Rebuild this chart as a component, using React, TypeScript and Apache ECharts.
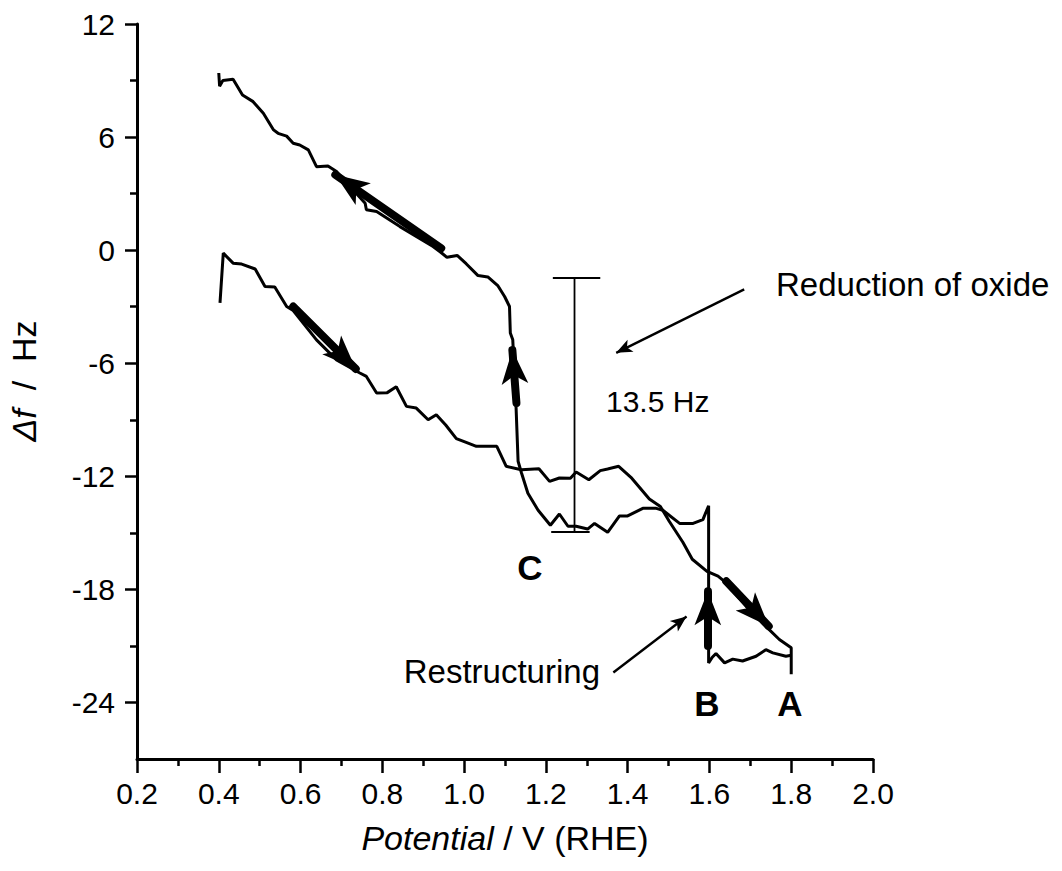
import React, { useEffect, useRef } from "react";
import * as echarts from "echarts";

// Anodic sweep (0.4 V -> 1.8 V): potential (V vs RHE) and frequency shift (Hz)
const anodicPotential = [
  0.403, 0.411, 0.435, 0.456, 0.489, 0.513, 0.537, 0.566, 0.582, 0.639, 0.688, 0.745,
  0.761, 0.786, 0.812, 0.834, 0.859, 0.883, 0.912, 0.932, 0.955, 0.981, 1.005, 1.03,
  1.08, 1.103, 1.14, 1.183, 1.209, 1.233, 1.26, 1.274, 1.305, 1.333, 1.351, 1.378,
  1.41, 1.453, 1.48, 1.502, 1.535, 1.558, 1.594, 1.621, 1.638, 1.69, 1.738, 1.771,
  1.8, 1.8,
];
const anodicShift = [
  -2.8, -0.16, -0.69, -0.74, -1.0, -1.93, -1.96, -2.99, -3.2, -4.76, -5.82, -6.52,
  -6.7, -7.58, -7.56, -7.25, -8.29, -8.38, -9.0, -8.73, -9.28, -10.0, -10.2, -10.41,
  -10.41, -11.47, -11.65, -11.6, -12.27, -12.09, -12.1, -11.77, -12.18, -11.7, -11.61, -11.47,
  -12.1, -13.2, -13.6, -14.4, -15.5, -16.4, -17.04, -17.3, -17.6, -18.9, -19.96, -20.66,
  -21.1, -22.5,
];

// Cathodic sweep (1.8 V -> 0.4 V)
const cathodicPotential = [
  1.8, 1.787, 1.755, 1.738, 1.714, 1.681, 1.657, 1.637, 1.616, 1.607, 1.598, 1.598,
  1.584, 1.56, 1.527, 1.486, 1.47, 1.437, 1.4, 1.38, 1.351, 1.319, 1.302, 1.274,
  1.254, 1.233, 1.211, 1.181, 1.156, 1.14, 1.132, 1.127, 1.119, 1.113, 1.111, 1.099,
  1.083, 1.058, 1.034, 1.005, 0.983, 0.958, 0.942, 0.924, 0.843, 0.786, 0.761, 0.758,
  0.688, 0.667, 0.639, 0.619, 0.598, 0.582, 0.566, 0.545, 0.534, 0.509, 0.484, 0.458,
  0.435, 0.41, 0.402, 0.4,
];
const cathodicShift = [
  -21.5, -21.55, -21.37, -21.2, -21.55, -21.8, -21.7, -21.9, -21.4, -21.6, -21.9, -13.56,
  -14.3, -14.5, -14.5, -13.8, -13.7, -13.7, -14.1, -14.1, -14.97, -14.5, -14.8, -14.65,
  -14.65, -14.0, -14.6, -13.8, -12.9, -11.8, -11.2, -8.3, -4.76, -4.4, -2.99, -2.46,
  -1.9, -1.42, -1.35, -0.72, -0.28, -0.38, -0.1, 0.19, 1.25, 2.05, 2.14, 2.49,
  4.17, 4.47, 4.43, 5.32, 5.58, 5.67, 6.05, 6.2, 6.38, 7.26, 7.88, 8.23,
  9.07, 9.0, 8.7, 9.4,
];

// Sweep-direction arrows drawn on the curves: [from, to] in (V, Hz)
const sweepArrows = [
  [[0.944, 0.1], [0.685, 4.0]],
  [[0.582, -2.99], [0.735, -6.3]],
  [[1.128, -8.11], [1.118, -5.3]],
  [[1.596, -21.0], [1.596, -18.1]],
  [[1.641, -17.57], [1.745, -19.95]],
];

// Pointer arrows for the text annotations
const pointerArrows = [
  [[1.685, -2.08], [1.372, -5.45]],
  [[1.365, -22.41], [1.544, -19.44]],
];

// Height marker of the oxide-reduction step (13.5 Hz)
const stepPotential = 1.27;
const stepTop = -1.45;
const stepBottom = -14.95;
const stepTopCap = [1.217, 1.333];
const stepBottomCap = [1.213, 1.307];

// Axis ticks
const xMin = 0.2;
const xMax = 2.0;
const yMin = -27;
const yMax = 12;
const yMajorTicks = [-24, -18, -12, -6, 0, 6, 12];
const yMinorTicks = [-21, -15, -9, -3, 3, 9];

const FONT = "'Liberation Sans', Arial, Helvetica, sans-serif";

const pairs = (xs: number[], ys: number[]) => xs.map((x, i) => [x, ys[i]]);

export default function App() {
  const ref = useRef<HTMLDivElement>(null);

  useEffect(() => {
    if (!ref.current) return;
    const chart = echarts.init(ref.current, undefined, { renderer: "svg" });

    const black = "#000";
    const curveStyle = { color: black, width: 3 };
    const titleRich = {
      i: { fontStyle: "italic", fontSize: 34, fontFamily: FONT, fill: black },
      n: { fontSize: 34, fontFamily: FONT, fill: black },
    };

    const option: any = {
      animation: false,
      backgroundColor: "#fff",
      grid: {
        left: 137,
        right: 189,
        top: 24,
        bottom: 112,
        containLabel: false,
        outerBoundsMode: "none",
      },
      xAxis: {
        type: "value",
        min: xMin,
        max: xMax,
        interval: 0.2,
        axisLine: { onZero: false, lineStyle: { color: black, width: 3 } },
        axisTick: { length: 14, lineStyle: { color: black, width: 2.5 } },
        minorTick: {
          show: true,
          splitNumber: 2,
          length: 7,
          lineStyle: { color: black, width: 2.5 },
        },
        splitLine: { show: false },
        minorSplitLine: { show: false },
        axisLabel: {
          color: black,
          fontSize: 30,
          fontFamily: FONT,
          margin: 19,
          showMinLabel: true,
          showMaxLabel: true,
          formatter: (v: number) => v.toFixed(1),
        },
      },
      yAxis: [
        {
          type: "value",
          min: yMin,
          max: yMax,
          position: "left",
          axisLine: { onZero: false, lineStyle: { color: black, width: 3 } },
          axisTick: {
            length: 12,
            customValues: yMajorTicks,
            lineStyle: { color: black, width: 2.5 },
          },
          splitLine: { show: false },
          axisLabel: {
            color: black,
            fontSize: 30,
            fontFamily: FONT,
            margin: 22,
            customValues: yMajorTicks,
            formatter: (v: number) => String(v),
          },
        },
        {
          type: "value",
          min: yMin,
          max: yMax,
          position: "left",
          offset: 0,
          axisLine: { show: false, onZero: false },
          axisTick: {
            show: true,
            length: 7,
            customValues: yMinorTicks,
            lineStyle: { color: black, width: 2.5 },
          },
          splitLine: { show: false },
          axisLabel: { show: false },
        },
      ],
      series: [
        {
          name: "anodic",
          type: "line",
          data: pairs(anodicPotential, anodicShift),
          showSymbol: false,
          symbol: "none",
          lineStyle: curveStyle,
          silent: true,
          z: 2,
          markLine: {
            silent: true,
            animation: false,
            label: { show: false },
            symbol: ["none", "arrow"],
            symbolSize: [20, 34],
            lineStyle: { color: black, width: 8, type: "solid", cap: "round" },
            itemStyle: { color: black },
            data: sweepArrows.map(([a, b]) => [{ coord: a }, { coord: b }]),
          },
        },
        {
          name: "cathodic",
          type: "line",
          data: pairs(cathodicPotential, cathodicShift),
          showSymbol: false,
          symbol: "none",
          lineStyle: curveStyle,
          silent: true,
          z: 2,
          markLine: {
            silent: true,
            animation: false,
            label: { show: false },
            symbol: ["none", "arrow"],
            symbolSize: [10, 16],
            lineStyle: { color: black, width: 2.4, type: "solid" },
            itemStyle: { color: black },
            data: pointerArrows.map(([a, b]) => [{ coord: a }, { coord: b }]),
          },
        },
        {
          name: "step",
          type: "line",
          data: [
            [stepPotential, stepTop],
            [stepPotential, stepBottom],
          ],
          showSymbol: false,
          symbol: "none",
          lineStyle: { color: black, width: 1.8 },
          silent: true,
          z: 1,
          markLine: {
            silent: true,
            animation: false,
            label: { show: false },
            symbol: ["none", "none"],
            lineStyle: { color: black, width: 1.8, type: "solid" },
            data: [
              [{ coord: [stepTopCap[0], stepTop] }, { coord: [stepTopCap[1], stepTop] }],
              [{ coord: [stepBottomCap[0], stepBottom] }, { coord: [stepBottomCap[1], stepBottom] }],
            ],
          },
        },
      ],
      graphic: [
        {
          type: "text",
          x: 505,
          y: 838,
          style: {
            text: "{i|Potential}{n| / V (RHE)}",
            fill: black,
            font: `34px ${FONT}`,
            align: "center",
            verticalAlign: "middle",
            rich: titleRich,
          },
        },
        {
          type: "text",
          x: 24,
          y: 381,
          rotation: Math.PI / 2,
          style: {
            text: "{i|\u0394f}{n|  /  Hz}",
            fill: black,
            font: `34px ${FONT}`,
            align: "center",
            verticalAlign: "middle",
            rich: titleRich,
          },
        },
        {
          type: "text",
          x: 776,
          y: 284,
          style: {
            text: "Reduction of oxide",
            fill: black,
            font: `33px ${FONT}`,
            align: "left",
            verticalAlign: "middle",
          },
        },
        {
          type: "text",
          x: 606,
          y: 401,
          style: {
            text: "13.5 Hz",
            fill: black,
            font: `30px ${FONT}`,
            align: "left",
            verticalAlign: "middle",
          },
        },
        {
          type: "text",
          x: 600,
          y: 671,
          style: {
            text: "Restructuring",
            fill: black,
            font: `33px ${FONT}`,
            align: "right",
            verticalAlign: "middle",
          },
        },
        {
          type: "text",
          x: 530,
          y: 567,
          style: {
            text: "C",
            fill: black,
            font: `bold 35px ${FONT}`,
            align: "center",
            verticalAlign: "middle",
          },
        },
        {
          type: "text",
          x: 707,
          y: 703,
          style: {
            text: "B",
            fill: black,
            font: `bold 35px ${FONT}`,
            align: "center",
            verticalAlign: "middle",
          },
        },
        {
          type: "text",
          x: 790,
          y: 703,
          style: {
            text: "A",
            fill: black,
            font: `bold 35px ${FONT}`,
            align: "center",
            verticalAlign: "middle",
          },
        },
      ],
    };

    chart.setOption(option);
    return () => chart.dispose();
  }, []);

  return (
    <div
      ref={ref}
      style={{ position: "absolute", left: 0, top: 0, width: 1062, height: 871, background: "#fff" }}
    />
  );
}
